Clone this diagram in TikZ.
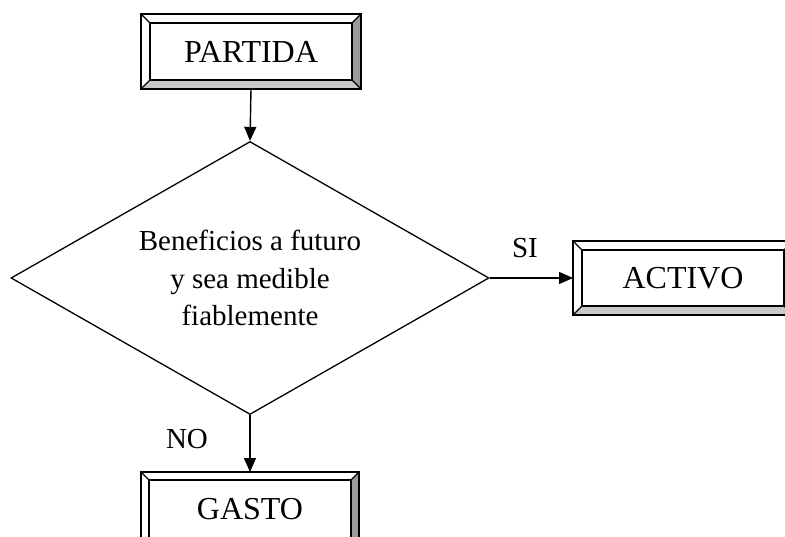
\documentclass[tikz,border=0pt]{standalone}
\usepackage{fontspec}
\setmainfont{Liberation Serif}
\usetikzlibrary{shapes.geometric,arrows.meta,calc}
\definecolor{sidegray}{RGB}{155,155,155}
\definecolor{basegray}{RGB}{200,200,200}
\newcommand{\bevelbox}[2]{%
  \fill[sidegray] (#1.north east) -- (#1.south east) -- ($(#1.south east)+(-#2,-#2)$) -- ($(#1.north east)+(-#2,#2)$) -- cycle;
  \fill[basegray] (#1.south west) -- (#1.south east) -- ($(#1.south east)+(-#2,-#2)$) -- ($(#1.south west)+(#2,-#2)$) -- cycle;
  \draw[boxline] ($(#1.north west)+(#2,#2)$) rectangle ($(#1.south east)+(-#2,-#2)$);
  \draw[boxline] (#1.north west) -- ++(#2,#2);
  \draw[boxline] (#1.north east) -- ++(-#2,#2);
  \draw[boxline] (#1.south west) -- ++(#2,-#2);
  \draw[boxline] (#1.south east) -- ++(-#2,-#2);
  \draw[boxline] (#1.north west) rectangle (#1.south east);
}
\begin{document}
\begin{tikzpicture}[x=1pt,y=-1pt,
  boxline/.style={line width=1.4pt,black},
  bevnode/.style={rectangle,inner sep=0pt,outer sep=0pt,minimum width=220pt,minimum height=75pt},
  boxtext/.style={font=\fontsize{32}{38}\selectfont,inner sep=0pt},
  decision/.style={diamond,draw,line width=1.3pt,inner sep=0pt,aspect=1.75,minimum width=478pt,minimum height=273pt,align=center,font=\fontsize{29}{37.5}\selectfont},
  flow/.style={line width=1.4pt,-{Triangle[length=14pt,width=12pt]}},
  lbl/.style={font=\fontsize{29}{34}\selectfont,inner sep=0pt}
]
\useasboundingbox (0,0) rectangle (785,537);
\node[bevnode] (partida) at (251,51.5) {};
\node[bevnode,minimum height=74pt] (activo) at (683,278) {};
\node[bevnode,minimum width=218pt] (gasto) at (250,509.5) {};
\bevelbox{partida}{9}
\bevelbox{activo}{9}
\bevelbox{gasto}{8}
\node[boxtext] (tpartida) at (partida) {PARTIDA};
\node[boxtext] (tactivo) at (activo) {ACTIVO};
\node[boxtext] (tgasto) at (gasto) {GASTO};
\node[decision] (dec) at (250,278) {Beneficios a futuro\\y sea medible\\fiablemente};
\draw[flow] (partida.south) -- (dec.north);
\draw[flow] (dec.east) -- (activo.west);
\draw[flow] (dec.south) -- (gasto.north);
\node[lbl] (si) at (525,248) {SI};
\node[lbl] (no) at (187,439) {NO};
\end{tikzpicture}
\end{document}
